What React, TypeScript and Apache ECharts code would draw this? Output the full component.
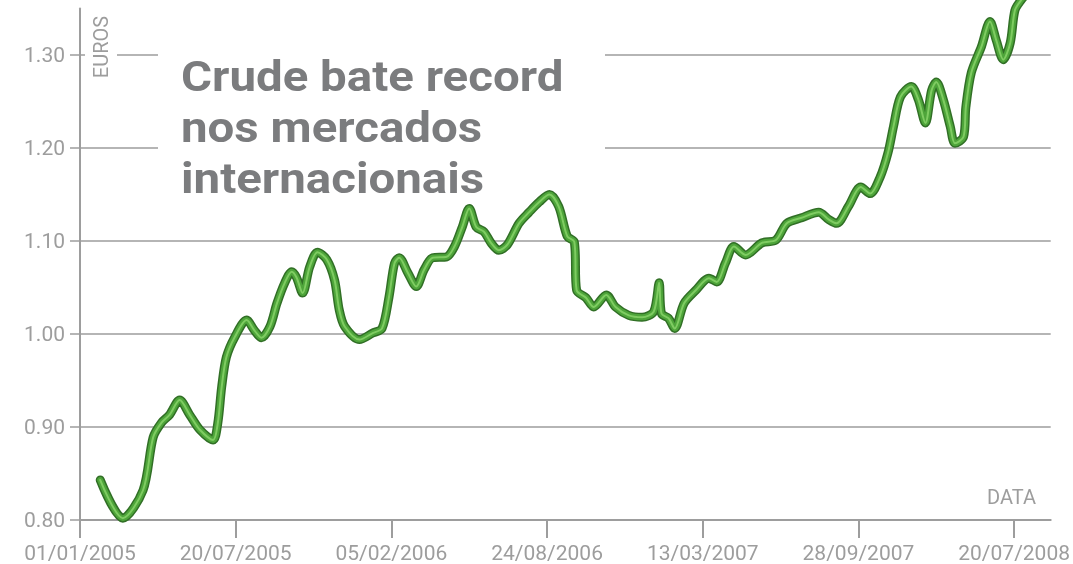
import React, { useEffect, useRef } from "react";
import * as echarts from "echarts";

// nominal day offsets (200 days between labelled ticks) and price in euros
const xDays = [
  26, 55, 81, 94, 105, 115, 128, 141, 154, 171, 177, 182, 188, 199, 214, 224, 233, 244, 253, 263,
  272, 278, 286, 295, 305, 317, 327, 333, 340, 359, 376, 388, 397, 404, 410, 421, 432, 442, 453, 471,
  481, 491, 500, 509, 519, 528, 538, 549, 564, 577, 590, 603, 615, 626, 635, 638, 650, 660, 676, 688,
  705, 722, 737, 744, 747, 756, 764, 776, 791, 808, 818, 829, 840, 855, 876, 894, 908, 927, 949, 962,
  972, 987, 1003, 1015, 1028, 1038, 1045, 1054, 1068, 1077, 1086, 1094, 1100, 1109, 1118, 1124, 1135, 1138, 1145, 1158,
  1169, 1177, 1186, 1195, 1201, 1209, 1218,
];
const euros = [
  0.843, 0.802, 0.832, 0.889, 0.905, 0.913, 0.929, 0.913, 0.897, 0.886, 0.904, 0.943, 0.975, 0.997, 1.015, 1.004, 0.996, 1.008, 1.033, 1.055,
  1.067, 1.061, 1.044, 1.072, 1.088, 1.08, 1.058, 1.026, 1.008, 0.994, 1.001, 1.006, 1.04, 1.076, 1.082, 1.066, 1.051, 1.069, 1.082, 1.083,
  1.094, 1.115, 1.135, 1.115, 1.11, 1.098, 1.09, 1.096, 1.119, 1.131, 1.142, 1.15, 1.137, 1.105, 1.099, 1.047, 1.039, 1.029, 1.042, 1.029,
  1.02, 1.018, 1.024, 1.055, 1.022, 1.017, 1.006, 1.033, 1.047, 1.06, 1.056, 1.076, 1.094, 1.085, 1.098, 1.101, 1.119, 1.125, 1.131, 1.123,
  1.119, 1.137, 1.158, 1.151, 1.169, 1.195, 1.223, 1.255, 1.266, 1.252, 1.227, 1.262, 1.271, 1.252, 1.223, 1.205, 1.212, 1.244, 1.281, 1.309,
  1.336, 1.316, 1.295, 1.313, 1.348, 1.359, 1.368,
];
const xTickValues = [0, 200, 400, 600, 800, 1000, 1200];
const xTickLabels = ["01/01/2005", "20/07/2005", "05/02/2006", "24/08/2006", "13/03/2007", "28/09/2007", "20/07/2008"];
const yTickValues = [0.8, 0.9, 1.0, 1.1, 1.2, 1.3];
const titleLines = ["Crude bate record", "nos mercados", "internacionais"];
const yAxisTitle = "EUROS";
const xAxisTitle = "DATA";

const GREY = "#9d9d9d";
const FONT = "Roboto, 'DejaVu Sans', sans-serif";

export default function App() {
  const ref = useRef<HTMLDivElement>(null);
  useEffect(() => {
    document.body.style.margin = "0";
    const chart = echarts.init(ref.current!, null, { renderer: "svg" });
    const data = xDays.map((d, i) => [d, euros[i]]);
    const lineLayer = (width: number, color: string, z: number) => ({
      type: "line",
      data,
      smooth: 0.3,
      showSymbol: false,
      symbol: "none",
      clip: false,
      z,
      lineStyle: { width, color, cap: "round", join: "round" },
    });
    const titleTexts = titleLines.map((t, i) => ({
      type: "text",
      z: 5,
      x: 181,
      y: 76 + i * 51,
      scaleX: 1.13,
      style: {
        text: t,
        fill: "#7b7c7e",
        font: `bold 42px ${FONT}`,
        verticalAlign: "middle",
        lineHeight: 42,
      },
    }));
    chart.setOption({
      animation: false,
      grid: { left: 80, right: 20, top: 8.5, bottom: 44, containLabel: false },
      xAxis: {
        type: "value",
        min: 0,
        max: 1247,
        axisLine: { show: true, lineStyle: { color: GREY, width: 2 } },
        axisTick: { show: true, length: 18, customValues: xTickValues, lineStyle: { color: GREY, width: 2 } },
        axisLabel: {
          customValues: xTickValues,
          margin: 22,
          color: GREY,
          fontFamily: FONT,
          fontSize: 21,
          formatter: (v: number) => xTickLabels[Math.round(v / 200)] ?? "",
        },
        splitLine: { show: false },
      },
      yAxis: {
        type: "value",
        min: 0.8,
        max: 1.35,
        axisLine: { show: true, lineStyle: { color: GREY, width: 2 } },
        axisTick: { show: true, length: 10, customValues: yTickValues, lineStyle: { color: GREY, width: 1.5 } },
        axisLabel: {
          customValues: yTickValues,
          margin: 15,
          color: GREY,
          fontFamily: FONT,
          fontSize: 21,
          formatter: (v: number) => v.toFixed(2),
        },
        splitLine: { show: true, lineStyle: { color: GREY, width: 1.5 } },
      },
      graphic: [
        { type: "rect", z: 1, shape: { x: 158, y: 35, width: 447, height: 125 }, style: { fill: "#fff" } },
        ...titleTexts,
        {
          type: "text",
          z: 1,
          x: 101,
          y: 47,
          rotation: Math.PI / 2,
          style: {
            text: yAxisTitle,
            fill: GREY,
            font: `20px ${FONT}`,
            align: "center",
            verticalAlign: "middle",
            backgroundColor: "#fff",
            padding: [0, 6, 0, 6],
            lineHeight: 32,
          },
        },
        {
          type: "text",
          z: 1,
          x: 1036,
          y: 497,
          style: { text: xAxisTitle, fill: GREY, font: `20px ${FONT}`, align: "right", verticalAlign: "middle" },
        },
      ],
      series: [lineLayer(9, "#316f26", 2), lineLayer(6, "#4ea53a", 3), lineLayer(2, "#7fcc62", 4)],
    });
    return () => chart.dispose();
  }, []);
  return <div ref={ref} style={{ position: "fixed", left: 0, top: 0, width: 1073, height: 564 }} />;
}
